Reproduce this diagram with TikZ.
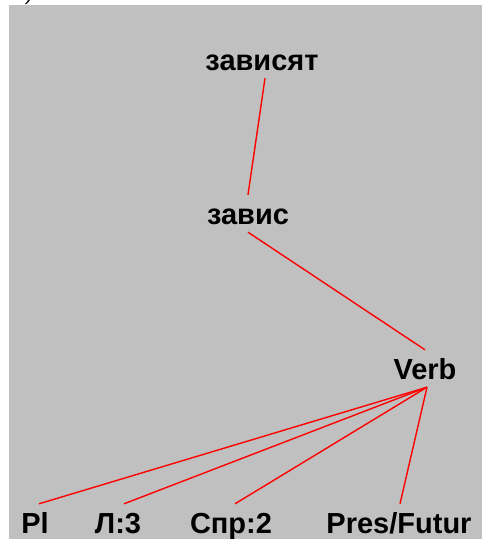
\documentclass[tikz,border=0pt]{standalone}
\usepackage{fontspec}
\setmainfont{Liberation Sans}
\begin{document}
\begin{tikzpicture}[
  x=1pt,
  y=-1pt,
  word/.style={
    font={\bfseries\fontsize{29}{29}\selectfont},
    text height=21pt,
    text depth=0pt,
    inner sep=8pt,
    anchor=base,
  },
  link/.style={
    draw=red,
    line width=1.4pt,
  },
]
  % background
  \useasboundingbox[fill=white] (0,0) rectangle (482,544);
  \fill[gray!50!lightgray, fill={rgb,255:red,192;green,192;blue,192}] (9,5) rectangle (482,539);
  \node[anchor=base, inner sep=0pt, font={\itshape\fontsize{20}{20}\selectfont}] (paren) at (30,0) {)};

  %%%%%%%%%%%%%%%%%%%% Words %%%%%%%%%%%%%%%%%%%%

  \node[word] (zavisyat) at (262,70) {зависят};
  \node[word] (zavis) at (248,224) {завис};
  \node[word] (verb) at (425,379) {Verb};

  \node[word] (pl) at (35,533) {Pl};
  \node[word] (lic) at (118,533) {Л:3};
  \node[word] (spr) at (231,533) {Спр:2};
  \node[word] (tense) at (399,533) {Pres/Futur};

  %%%%%%%%%%%%%%%%%%%% Links %%%%%%%%%%%%%%%%%%%%

  \draw[link] ([xshift=3pt]zavisyat.south) -- (zavis.north);
  \draw[link] (zavis.south) -- (verb.north);

  \draw[link] ([xshift=2pt]verb.south) -- ([xshift=4pt]pl.north);
  \draw[link] ([xshift=2pt]verb.south) -- ([xshift=6pt]lic.north);
  \draw[link] ([xshift=2pt]verb.south) -- ([xshift=4pt]spr.north);
  \draw[link] ([xshift=2pt]verb.south) -- ([xshift=1pt]tense.north);
\end{tikzpicture}
\end{document}
